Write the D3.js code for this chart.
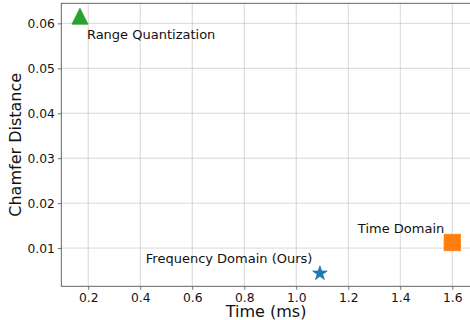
<!DOCTYPE html>
<html>
<head>
<meta charset="utf-8">
<script src="https://cdn.jsdelivr.net/npm/d3@7"></script>
<style>
  body { margin: 0; background: #fff; }
  svg { display: block; font-family: "DejaVu Sans", sans-serif; }
</style>
</head>
<body>
<div id="chart"></div>
<script>
// methods compared
const methods = ["Range Quantization", "Time Domain", "Frequency Domain (Ours)"];
const timeMs = [0.168, 1.6, 1.091];
const chamfer = [0.0616, 0.01124, 0.00436];
const colors = ["#2ca02c", "#ff7f0e", "#1f77b4"];
const shapes = ["triangle", "square", "star"];

const xTicks = [0.2, 0.4, 0.6, 0.8, 1.0, 1.2, 1.4, 1.6];
const yTicks = [0.01, 0.02, 0.03, 0.04, 0.05, 0.06];

const W = 470, H = 320;
const margin = { top: 3.3, right: -0.9, bottom: 33.7, left: 61.3 };
const width = W - margin.left - margin.right;
const height = H - margin.top - margin.bottom;

const data = methods.map((m, i) => ({ name: m, t: timeMs[i], cd: chamfer[i], color: colors[i], shape: shapes[i] }));

// matplotlib-like 5% autoscale margins
function padded(vals) {
  const [a, b] = d3.extent(vals);
  const p = (b - a) * 0.05;
  return [a - p, b + p];
}

const x = d3.scaleLinear().domain(padded(timeMs)).range([0, width]);
const y = d3.scaleLinear().domain(padded(chamfer)).range([height, 0]);

const svg = d3.select("#chart").append("svg")
  .attr("width", W)
  .attr("height", H);

const g = svg.append("g")
  .attr("transform", "translate(" + margin.left + "," + margin.top + ")");

// grid
g.append("g").selectAll("line")
  .data(xTicks).enter().append("line")
  .attr("x1", d => x(d)).attr("x2", d => x(d))
  .attr("y1", 0).attr("y2", height)
  .attr("stroke", "#b0b0b0").attr("stroke-opacity", 0.55).attr("stroke-width", 0.9);
g.append("g").selectAll("line")
  .data(yTicks).enter().append("line")
  .attr("y1", d => y(d)).attr("y2", d => y(d))
  .attr("x1", 0).attr("x2", width)
  .attr("stroke", "#b0b0b0").attr("stroke-opacity", 0.55).attr("stroke-width", 0.9);

// axes
const xAxis = g.append("g")
  .attr("transform", "translate(0," + height + ")")
  .call(d3.axisBottom(x).tickValues(xTicks).tickFormat(d3.format(".1f")).tickSizeOuter(0).tickSize(3.5).tickPadding(3));
const yAxis = g.append("g")
  .call(d3.axisLeft(y).tickValues(yTicks).tickFormat(d3.format(".2f")).tickSizeOuter(0).tickSize(3.5).tickPadding(3));

[xAxis, yAxis].forEach(ax => {
  ax.select(".domain").remove();
  ax.selectAll(".tick line").attr("stroke", "#555").attr("stroke-width", 0.8);
  ax.selectAll(".tick text")
    .attr("font-family", "DejaVu Sans, sans-serif")
    .attr("font-size", 12.3)
    .attr("fill", "#111");
});

// frame
g.append("rect")
  .attr("x", 0).attr("y", 0)
  .attr("width", width).attr("height", height)
  .attr("fill", "none")
  .attr("stroke", "#555")
  .attr("stroke-width", 0.9);

// marker shapes (matplotlib style)
function markerPath(shape) {
  if (shape === "triangle") {
    const r = 8;
    return "M0," + (-r) + "L" + r + "," + r + "L" + (-r) + "," + r + "Z";
  }
  if (shape === "square") {
    const r = 8.2;
    return "M" + (-r) + "," + (-r) + "H" + r + "V" + r + "H" + (-r) + "Z";
  }
  // five pointed star
  const ro = 7.6, ri = ro * 0.381966;
  let p = "";
  for (let k = 0; k < 10; k++) {
    const r = k % 2 === 0 ? ro : ri;
    const a = -Math.PI / 2 + k * Math.PI / 5;
    p += (k === 0 ? "M" : "L") + (r * Math.cos(a)).toFixed(2) + "," + (r * Math.sin(a)).toFixed(2);
  }
  return p + "Z";
}

g.append("g").selectAll("path")
  .data(data).enter().append("path")
  .attr("transform", d => "translate(" + x(d.t) + "," + y(d.cd) + ")")
  .attr("d", d => markerPath(d.shape))
  .attr("fill", d => d.color)
  .attr("stroke", d => d.color)
  .attr("stroke-width", 0.8);

// annotations
const labelOffset = {
  "Range Quantization": { dx: 7, dy: 23, anchor: "start" },
  "Time Domain": { dx: -8, dy: -10, anchor: "end" },
  "Frequency Domain (Ours)": { dx: -7.5, dy: -10.4, anchor: "end" }
};
g.append("g").selectAll("text")
  .data(data).enter().append("text")
  .attr("x", d => x(d.t) + labelOffset[d.name].dx)
  .attr("y", d => y(d.cd) + labelOffset[d.name].dy)
  .attr("text-anchor", d => labelOffset[d.name].anchor)
  .attr("font-size", 13)
  .attr("fill", "#111")
  .text(d => d.name);

// axis titles
svg.append("text")
  .attr("x", margin.left + width / 2)
  .attr("y", 317)
  .attr("text-anchor", "middle")
  .attr("font-size", 16)
  .attr("fill", "#111")
  .text("Time (ms)");

svg.append("text")
  .attr("transform", "translate(21," + (margin.top + height / 2) + ") rotate(-90)")
  .attr("text-anchor", "middle")
  .attr("font-size", 16)
  .attr("fill", "#111")
  .text("Chamfer Distance");
</script>
</body>
</html>
